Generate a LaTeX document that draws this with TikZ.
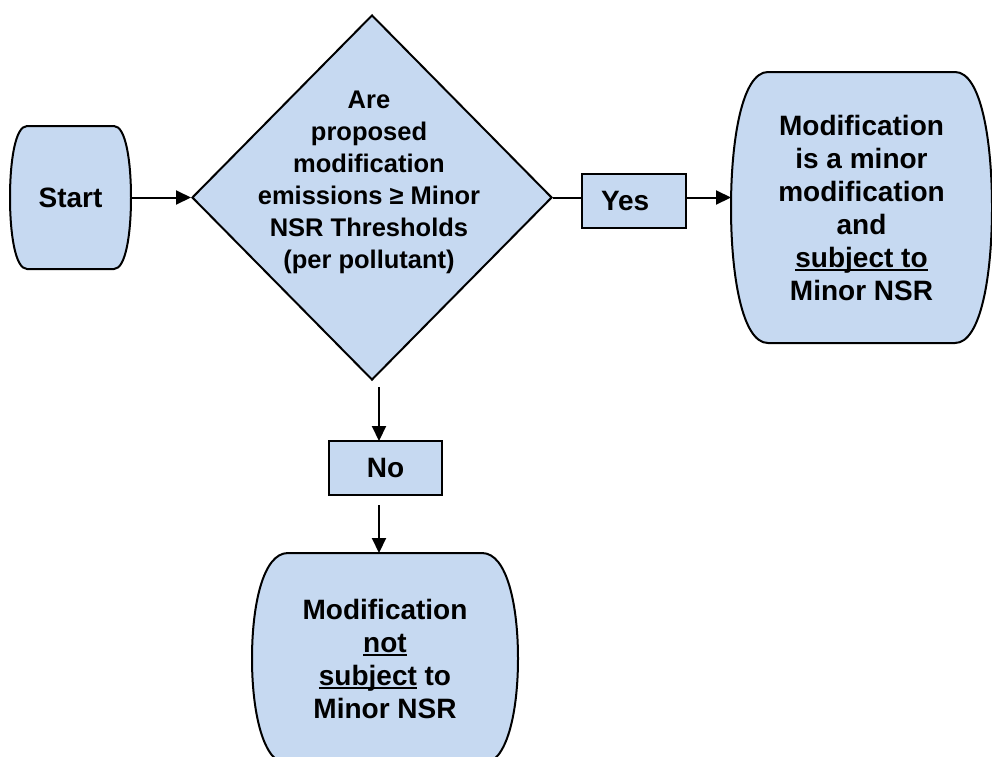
\documentclass[tikz,border=0pt]{standalone}
\usepackage{fontspec}
\setmainfont{Liberation Sans}
\usepackage{tikz}
\usetikzlibrary{arrows.meta}
\usetikzlibrary{calc}
\usetikzlibrary{shapes}
\usetikzlibrary{backgrounds}
\definecolor{B0}{HTML}{C6D9F1}
\definecolor{K0}{HTML}{000000}
\newcommand{\ulx}[1]{\setbox0\hbox{#1}\rlap{\rule[-4.3pt]{\wd0}{2.1pt}}\box0\relax}
\tikzstyle{txt} = [font=\fontsize{28}{33}\selectfont\bfseries, align=center, inner sep=0pt, outer sep=0pt]
\tikzstyle{box} = [txt, rectangle, draw=K0, fill=B0, line width=2pt]
\tikzstyle{conn} = [K0, line width=2pt]
\tikzstyle{connarrow} = [conn, -{Triangle[length=15pt, width=14pt]}]

\begin{document}
\begin{tikzpicture}[x=1pt, y=-1pt]
	\useasboundingbox (0,0) rectangle (992,756);
	
	\node[txt, minimum width=121pt, minimum height=143pt] (start) at (70.5,197.5) {Start};
	
	\node[diamond, draw=K0, fill=B0, line width=2pt, inner sep=0pt, minimum width=360pt, minimum height=365pt] (dec) at (372,197.5) {};
	\node[txt, font=\fontsize{25.5}{32}\selectfont\bfseries] (dectxt) at (369,182)
		{Are\\proposed\\modification\\emissions ≥ Minor\\NSR Thresholds\\(per pollutant)};
	
	\node[box, minimum width=104pt, minimum height=54pt, text width=66pt, align=left, inner xsep=19pt] (yes) at (634,201) {Yes};
	\node[txt, minimum width=261pt, minimum height=271pt] (modyes) at (861.5,207.5)
		{Modification\\is a minor\\modification\\and\\\ulx{subject to}\\Minor NSR};
	
	\node[box, minimum width=113pt, minimum height=54pt] (no) at (385.5,468) {No};
	\node[txt, minimum width=266pt, minimum height=211pt] (modno) at (385,658.5)
		{Modification\\\ulx{not}\\\ulx{subject} to\\Minor NSR};
	
	% terminal outlines, behind the text
	\newcommand{\barrel}[2]{
		\filldraw[fill=B0, draw=K0, line width=2pt]
			([xshift=#2]#1.north west) -- ([xshift=-#2]#1.north east)
			.. controls ([xshift=-0.3*#2]#1.north east) and ($(#1.north east)!0.5!(#1.east)$) .. (#1.east)
			.. controls ($(#1.south east)!0.5!(#1.east)$) and ([xshift=-0.3*#2]#1.south east) .. ([xshift=-#2]#1.south east)
			-- ([xshift=#2]#1.south west)
			.. controls ([xshift=0.3*#2]#1.south west) and ($(#1.south west)!0.5!(#1.west)$) .. (#1.west)
			.. controls ($(#1.north west)!0.5!(#1.west)$) and ([xshift=0.3*#2]#1.north west) .. cycle;
	}
	\begin{pgfonlayer}{background}
		\barrel{start}{17pt}
		\barrel{modyes}{37pt}
		\barrel{modno}{36pt}
	\end{pgfonlayer}
	
	\draw[connarrow] (start.east) -- (dec.west);
	\draw[conn] (dec.east) -- (dec.east -| yes.west);
	\draw[connarrow] (yes.east |- dec.east) -- (modyes.west |- dec.east);
	\draw[connarrow, shorten <=6pt] ([xshift=7pt]dec.south) -- ([xshift=-6.5pt]no.north);
	\draw[connarrow, shorten <=10pt] ([xshift=-6.5pt]no.south) -- ([xshift=-6pt]modno.north);
\end{tikzpicture}
\end{document}
